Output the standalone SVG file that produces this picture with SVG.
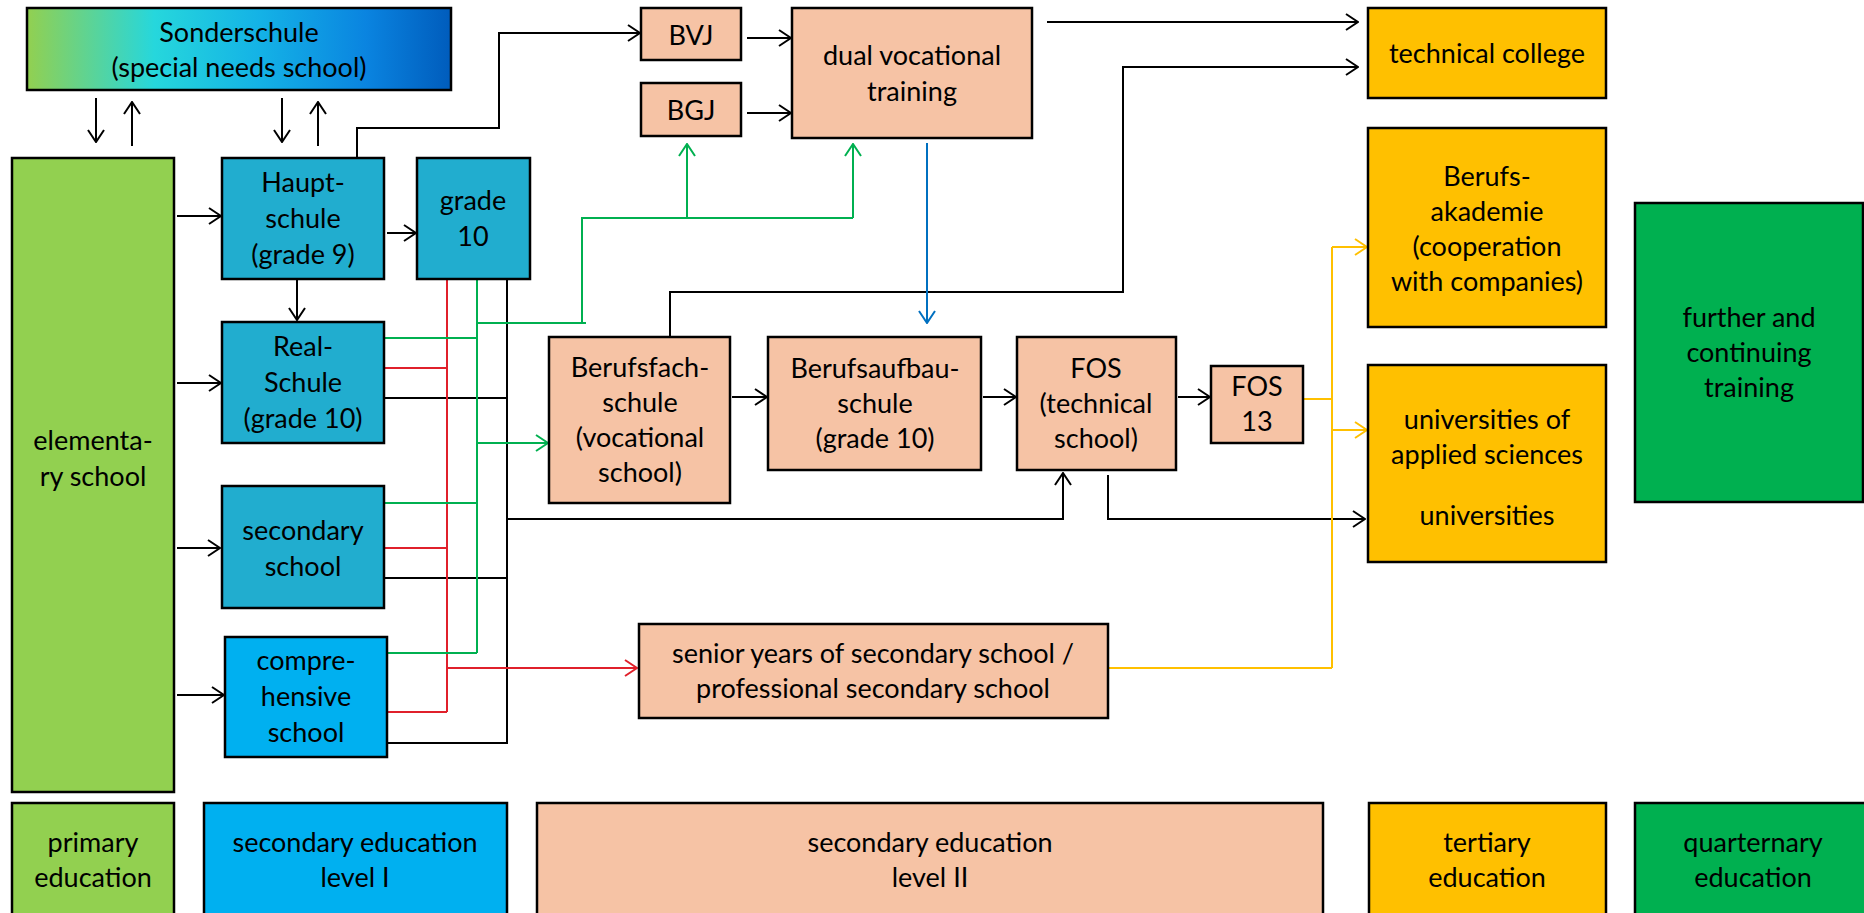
<svg xmlns="http://www.w3.org/2000/svg" width="1864" height="913" viewBox="0 0 1864 913">
<defs>
<linearGradient id="gSonder" x1="0" y1="0" x2="1" y2="0">
<stop offset="0" stop-color="#92D050"/>
<stop offset="0.3" stop-color="#26D7DC"/>
<stop offset="0.55" stop-color="#14B2E6"/>
<stop offset="0.8" stop-color="#0A84E0"/>
<stop offset="1" stop-color="#005CBC"/>
</linearGradient>
<marker id="aK" markerUnits="userSpaceOnUse" viewBox="0 0 14 18" markerWidth="14" markerHeight="18" refX="13" refY="9" orient="auto"><path d="M1,1 L13,9 L1,17" fill="none" stroke="#000" stroke-width="2"/></marker>
<marker id="aR" markerUnits="userSpaceOnUse" viewBox="0 0 14 18" markerWidth="14" markerHeight="18" refX="13" refY="9" orient="auto"><path d="M1,1 L13,9 L1,17" fill="none" stroke="#E0202B" stroke-width="2"/></marker>
<marker id="aG" markerUnits="userSpaceOnUse" viewBox="0 0 14 18" markerWidth="14" markerHeight="18" refX="13" refY="9" orient="auto"><path d="M1,1 L13,9 L1,17" fill="none" stroke="#00B050" stroke-width="2"/></marker>
<marker id="aB" markerUnits="userSpaceOnUse" viewBox="0 0 14 18" markerWidth="14" markerHeight="18" refX="13" refY="9" orient="auto"><path d="M1,1 L13,9 L1,17" fill="none" stroke="#0070C0" stroke-width="2"/></marker>
<marker id="aY" markerUnits="userSpaceOnUse" viewBox="0 0 14 18" markerWidth="14" markerHeight="18" refX="13" refY="9" orient="auto"><path d="M1,1 L13,9 L1,17" fill="none" stroke="#FFC000" stroke-width="2"/></marker>
</defs>
<style>
rect{stroke:#000;stroke-width:2.5}
text{font-family:Lato,"Open Sans","Liberation Sans",sans-serif;font-size:27px;fill:#000;text-anchor:middle}
.prim{fill:#92D050}
.sec1{fill:#21ADCF}
.comp{fill:#00B0F0}
.sec2{fill:#F6C3A5}
.ter{fill:#FFC000}
.quart{fill:#00B050}
.k{stroke:#000;stroke-width:2;fill:none}
.r{stroke:#E0202B;stroke-width:2;fill:none}
.g{stroke:#00B050;stroke-width:2;fill:none}
.b{stroke:#0070C0;stroke-width:2;fill:none}
.y{stroke:#FFC000;stroke-width:2;fill:none}
</style>
<rect width="1864" height="913" fill="#fff" style="stroke:none"/>

<g id="connectors">
<line class="k" x1="96" y1="98" x2="96" y2="142" marker-end="url(#aK)"/>
<line class="k" x1="132" y1="146" x2="132" y2="102" marker-end="url(#aK)"/>
<line class="k" x1="282" y1="98" x2="282" y2="142" marker-end="url(#aK)"/>
<line class="k" x1="318" y1="146" x2="318" y2="102" marker-end="url(#aK)"/>
<line class="k" x1="177" y1="216" x2="221" y2="216" marker-end="url(#aK)"/>
<line class="k" x1="177" y1="383" x2="221" y2="383" marker-end="url(#aK)"/>
<line class="k" x1="177" y1="548" x2="220" y2="548" marker-end="url(#aK)"/>
<line class="k" x1="177" y1="695" x2="224" y2="695" marker-end="url(#aK)"/>
<line class="k" x1="387" y1="233" x2="416" y2="233" marker-end="url(#aK)"/>
<line class="k" x1="297" y1="280" x2="297" y2="320" marker-end="url(#aK)"/>
<path class="k" d="M357,158 V128 H499 V33 H640" marker-end="url(#aK)"/>
<line class="k" x1="747" y1="38" x2="791" y2="38" marker-end="url(#aK)"/>
<line class="k" x1="747" y1="113" x2="791" y2="113" marker-end="url(#aK)"/>
<line class="k" x1="1047" y1="22" x2="1358" y2="22" marker-end="url(#aK)"/>
<path class="k" d="M670,337 V292 H1123 V67 H1358" marker-end="url(#aK)"/>
<line class="k" x1="732" y1="397" x2="767" y2="397" marker-end="url(#aK)"/>
<line class="k" x1="983" y1="397" x2="1016" y2="397" marker-end="url(#aK)"/>
<line class="k" x1="1178" y1="397" x2="1210" y2="397" marker-end="url(#aK)"/>
<line class="k" x1="507" y1="279" x2="507" y2="744"/>
<line class="k" x1="385" y1="398" x2="507" y2="398"/>
<line class="k" x1="385" y1="578" x2="507" y2="578"/>
<line class="k" x1="388" y1="743" x2="507" y2="743"/>
<path class="k" d="M507,519 H1063 V473" marker-end="url(#aK)"/>
<path class="k" d="M1108,475 V519 H1365" marker-end="url(#aK)"/>

<line class="r" x1="447" y1="280" x2="447" y2="712"/>
<line class="r" x1="385" y1="368" x2="447" y2="368"/>
<line class="r" x1="385" y1="548" x2="447" y2="548"/>
<line class="r" x1="388" y1="712" x2="447" y2="712"/>
<line class="r" x1="447" y1="668" x2="637" y2="668" marker-end="url(#aR)"/>

<line class="g" x1="477" y1="280" x2="477" y2="653"/>
<line class="g" x1="385" y1="338" x2="477" y2="338"/>
<line class="g" x1="385" y1="503" x2="477" y2="503"/>
<line class="g" x1="388" y1="653" x2="477" y2="653"/>
<line class="g" x1="477" y1="443" x2="548" y2="443" marker-end="url(#aG)"/>
<path class="g" d="M477,323 H586 M582,323 V218 H853"/>
<line class="g" x1="687" y1="218" x2="687" y2="144" marker-end="url(#aG)"/>
<line class="g" x1="853" y1="218" x2="853" y2="144" marker-end="url(#aG)"/>

<line class="b" x1="927" y1="143" x2="927" y2="323" marker-end="url(#aB)"/>

<line class="y" x1="1304" y1="399" x2="1332" y2="399"/>
<line class="y" x1="1332" y1="247" x2="1332" y2="668"/>
<line class="y" x1="1109" y1="668" x2="1332" y2="668"/>
<line class="y" x1="1332" y1="247" x2="1367" y2="247" marker-end="url(#aY)"/>
<line class="y" x1="1332" y1="430" x2="1367" y2="430" marker-end="url(#aY)"/>
</g>

<g id="sonderschule"><rect x="27" y="8" width="424" height="82" fill="url(#gSonder)"/>
<text x="239" y="42">Sonderschule</text><text x="239" y="77">(special needs school)</text></g>

<g id="elementary"><rect class="prim" x="12" y="158" width="162" height="634"/>
<text x="93" y="450">elementa-</text><text x="93" y="486">ry school</text></g>

<g id="hauptschule"><rect class="sec1" x="222" y="158" width="162" height="121"/>
<text x="303" y="192">Haupt-</text><text x="303" y="228">schule</text><text x="303" y="264">(grade 9)</text></g>

<g id="grade10"><rect class="sec1" x="417" y="158" width="113" height="121"/>
<text x="473" y="210">grade</text><text x="473" y="246">10</text></g>

<g id="realschule"><rect class="sec1" x="222" y="322" width="162" height="121"/>
<text x="303" y="356">Real-</text><text x="303" y="392">Schule</text><text x="303" y="428">(grade 10)</text></g>

<g id="secondary"><rect class="sec1" x="222" y="486" width="162" height="122"/>
<text x="303" y="540">secondary</text><text x="303" y="576">school</text></g>

<g id="comprehensive"><rect class="comp" x="225" y="637" width="162" height="120"/>
<text x="306" y="670">compre-</text><text x="306" y="706">hensive</text><text x="306" y="742">school</text></g>

<g id="bvj"><rect class="sec2" x="641" y="8" width="100" height="52"/><text x="691" y="45">BVJ</text></g>
<g id="bgj"><rect class="sec2" x="641" y="83" width="100" height="53"/><text x="691" y="120">BGJ</text></g>

<g id="dual"><rect class="sec2" x="792" y="8" width="240" height="130"/>
<text x="912" y="65">dual vocational</text><text x="912" y="101">training</text></g>

<g id="berufsfachschule"><rect class="sec2" x="549" y="337" width="181" height="166"/>
<text x="640" y="377">Berufsfach-</text><text x="640" y="412">schule</text><text x="640" y="447">(vocational</text><text x="640" y="482">school)</text></g>

<g id="berufsaufbauschule"><rect class="sec2" x="768" y="337" width="213" height="133"/>
<text x="875" y="378">Berufsaufbau-</text><text x="875" y="413">schule</text><text x="875" y="448">(grade 10)</text></g>

<g id="fos"><rect class="sec2" x="1017" y="337" width="159" height="133"/>
<text x="1096" y="378">FOS</text><text x="1096" y="413">(technical</text><text x="1096" y="448">school)</text></g>

<g id="fos13"><rect class="sec2" x="1211" y="366" width="92" height="77"/>
<text x="1257" y="396">FOS</text><text x="1257" y="431">13</text></g>

<g id="senior"><rect class="sec2" x="639" y="624" width="469" height="94"/>
<text x="873" y="663">senior years of secondary school /</text><text x="873" y="698">professional secondary school</text></g>

<g id="technical-college"><rect class="ter" x="1368" y="8" width="238" height="90"/>
<text x="1487" y="63">technical college</text></g>

<g id="berufsakademie"><rect class="ter" x="1368" y="128" width="238" height="199"/>
<text x="1487" y="186">Berufs-</text><text x="1487" y="221">akademie</text><text x="1487" y="256">(cooperation</text><text x="1487" y="291">with companies)</text></g>

<g id="universities"><rect class="ter" x="1368" y="365" width="238" height="197"/>
<text x="1487" y="429">universities of</text><text x="1487" y="464">applied sciences</text><text x="1487" y="525">universities</text></g>

<g id="further"><rect class="quart" x="1635" y="203" width="228" height="299"/>
<text x="1749" y="327">further and</text><text x="1749" y="362">continuing</text><text x="1749" y="397">training</text></g>

<g id="legend-primary"><rect class="prim" x="12" y="803" width="162" height="130"/>
<text x="93" y="852">primary</text><text x="93" y="887">education</text></g>
<g id="legend-secondary1"><rect class="comp" x="204" y="803" width="303" height="130"/>
<text x="355" y="852">secondary education</text><text x="355" y="887">level I</text></g>
<g id="legend-secondary2"><rect class="sec2" x="537" y="803" width="786" height="130"/>
<text x="930" y="852">secondary education</text><text x="930" y="887">level II</text></g>
<g id="legend-tertiary"><rect class="ter" x="1369" y="803" width="237" height="130"/>
<text x="1487" y="852">tertiary</text><text x="1487" y="887">education</text></g>
<g id="legend-quarternary"><rect class="quart" x="1635" y="803" width="240" height="130"/>
<text x="1753" y="852">quarternary</text><text x="1753" y="887">education</text></g>
</svg>
